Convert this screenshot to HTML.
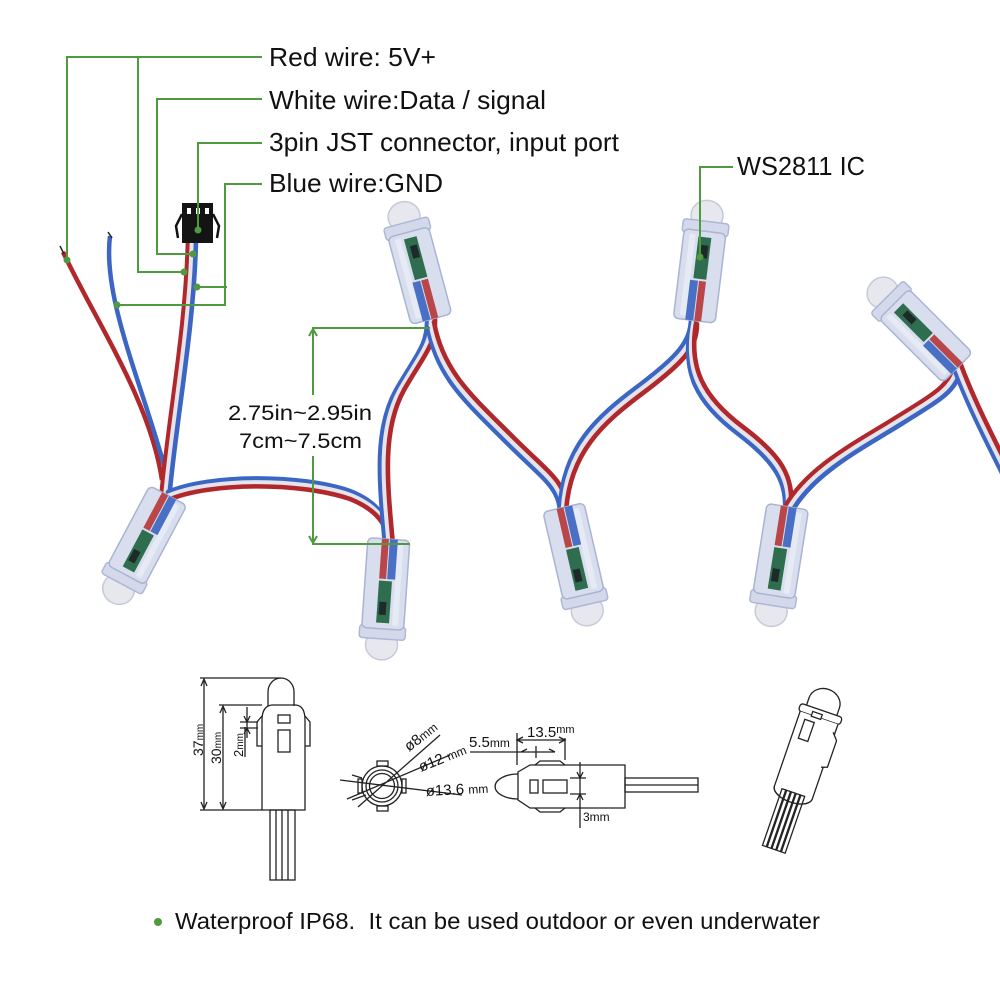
<!DOCTYPE html>
<html><head><meta charset="utf-8"><style>
html,body{margin:0;padding:0;background:#fff;}
svg{display:block;}
</style></head><body>
<svg width="1000" height="1000" viewBox="0 0 1000 1000" xmlns="http://www.w3.org/2000/svg" font-family="Liberation Sans, Arial, sans-serif">
<defs>
<g id="pix">
 <ellipse cx="0" cy="-50" rx="16" ry="15" fill="#e7e8ee" stroke="#c6cad8" stroke-width="1.5"/>
 <rect x="-23" y="-44" width="46" height="13" rx="3" fill="#d3d9ea" stroke="#aeb8d6" stroke-width="1.5"/>
 <rect x="-21" y="-34" width="42" height="90" rx="5" fill="#d8deee" stroke="#a9b4d3" stroke-width="1.5"/>
 <rect x="-15" y="-30" width="6" height="82" fill="#e8ecf6" opacity="0.8"/>
 <rect x="-6" y="-28" width="13" height="42" fill="#2f6d4f"/>
 <rect x="-2" y="-20" width="7" height="13" fill="#1e2a2a"/>
 <rect x="-9" y="16" width="8" height="40" fill="#4a70c6"/>
 <rect x="0" y="16" width="7" height="40" fill="#b9474a"/>
</g>
</defs>
<rect width="1000" height="1000" fill="#fff"/>

<!-- loose wires -->
<path d="M63,252 C95,320 150,400 162,480" fill="none" stroke="#b0272c" stroke-width="4.5"/>
<path d="M110,236 C102,300 145,390 168,480" fill="none" stroke="#3c66c4" stroke-width="4.5"/>
<path d="M60,246 L64,254" stroke="#222" stroke-width="1.5"/>
<path d="M108,232 L112,238" stroke="#222" stroke-width="1.5"/>

<!-- wire bundles -->
<g fill="none" stroke-width="4.6" stroke-linecap="round">
 <path d="M192,240 C190,330 172,420 165,500" stroke="#b0272c" transform="translate(-4,0)"/>
 <path d="M192,240 C190,330 172,420 165,500" stroke="#e4e4ea"/>
 <path d="M192,240 C190,330 172,420 165,500" stroke="#3c66c4" transform="translate(4,0)"/>
 <path d="M168,496 C210,478 300,478 350,495 C375,505 388,520 389,540" stroke="#3c66c4" transform="translate(0,-4)"/>
 <path d="M168,496 C210,478 300,478 350,495 C375,505 388,520 389,540" stroke="#e4e4ea"/>
 <path d="M168,496 C210,478 300,478 350,495 C375,505 388,520 389,540" stroke="#b0272c" transform="translate(0,4)"/>
 <path d="M389,545 C383,480 378,430 400,390 C420,355 432,345 431,319" stroke="#3c66c4" transform="translate(-4,0)"/>
 <path d="M389,545 C383,480 378,430 400,390 C420,355 432,345 431,319" stroke="#e4e4ea"/>
 <path d="M389,545 C383,480 378,430 400,390 C420,355 432,345 431,319" stroke="#b0272c" transform="translate(4,0)"/>
 <path d="M431,325 C440,375 470,400 510,440 C545,475 563,485 563,510" stroke="#3c66c4" transform="translate(-3,3)"/>
 <path d="M431,325 C440,375 470,400 510,440 C545,475 563,485 563,510" stroke="#e4e4ea"/>
 <path d="M431,325 C440,375 470,400 510,440 C545,475 563,485 563,510" stroke="#b0272c" transform="translate(3,-3)"/>
 <path d="M563,510 C566,450 600,420 640,390 C680,360 694,345 694,321" stroke="#3c66c4" transform="translate(-3,-3)"/>
 <path d="M563,510 C566,450 600,420 640,390 C680,360 694,345 694,321" stroke="#e4e4ea"/>
 <path d="M563,510 C566,450 600,420 640,390 C680,360 694,345 694,321" stroke="#b0272c" transform="translate(3,3)"/>
 <path d="M694,321 C684,370 700,400 740,430 C780,460 790,480 788,510" stroke="#3c66c4" transform="translate(-3,3)"/>
 <path d="M694,321 C684,370 700,400 740,430 C780,460 790,480 788,510" stroke="#e4e4ea"/>
 <path d="M694,321 C684,370 700,400 740,430 C780,460 790,480 788,510" stroke="#b0272c" transform="translate(3,-3)"/>
 <path d="M788,510 C810,470 860,445 900,420 C940,395 950,390 958,368" stroke="#b0272c" transform="translate(-3,-3)"/>
 <path d="M788,510 C810,470 860,445 900,420 C940,395 950,390 958,368" stroke="#e4e4ea"/>
 <path d="M788,510 C810,470 860,445 900,420 C940,395 950,390 958,368" stroke="#3c66c4" transform="translate(3,3)"/>
 <path d="M958,368 C970,400 985,430 1005,470" stroke="#3c66c4" transform="translate(-3,3)"/>
 <path d="M958,368 C970,400 985,430 1005,470" stroke="#e4e4ea"/>
 <path d="M958,368 C970,400 985,430 1005,470" stroke="#b0272c" transform="translate(3,-3)"/>
</g>

<!-- JST connector -->
<g>
 <path d="M182,214 L176,226 L178,238" fill="none" stroke="#111" stroke-width="2.5"/>
 <path d="M213,214 L219,226 L217,238" fill="none" stroke="#111" stroke-width="2.5"/>
 <rect x="182" y="203" width="31" height="40" fill="#141414"/>
 <rect x="187" y="208" width="4" height="6" fill="#fff"/>
 <rect x="196" y="208" width="4" height="6" fill="#fff"/>
 <rect x="205" y="208" width="4" height="6" fill="#fff"/>
</g>

<!-- pixels -->
<use href="#pix" transform="translate(417,265) rotate(-15)"/>
<use href="#pix" transform="translate(701,265) rotate(7)"/>
<use href="#pix" transform="translate(918,328) rotate(-45)"/>
<use href="#pix" transform="translate(142,545) rotate(208)"/>
<use href="#pix" transform="translate(385,595) rotate(184)"/>
<use href="#pix" transform="translate(576,562) rotate(167)"/>
<use href="#pix" transform="translate(779,562) rotate(189)"/>

<!-- green annotations -->
<g stroke="#4f9a40" stroke-width="2" fill="none">
 <polyline points="67,260 67,57 262,57"/>
 <polyline points="184,272 138,272 138,57"/>
 <polyline points="193,254 157,254 157,99 262,99"/>
 <polyline points="198,230 198,143 262,143"/>
 <polyline points="117,305 225,305 225,184 262,184"/>
 <polyline points="197,287 227,287"/>
 <polyline points="700,257 700,167 733,167"/>
 <polyline points="430,328 313,328 313,395"/>
 <polyline points="313,456 313,544 410,544"/>
 <polyline points="309,336 313,329 317,336"/>
 <polyline points="309,536 313,543 317,536"/>
</g>
<g fill="#4f9a40">
 <circle cx="67" cy="260" r="3.5"/>
 <circle cx="184" cy="272" r="3.5"/>
 <circle cx="193" cy="254" r="3.5"/>
 <circle cx="198" cy="230" r="3.5"/>
 <circle cx="117" cy="305" r="3.5"/>
 <circle cx="197" cy="287" r="3.5"/>
 <circle cx="700" cy="257" r="3.5"/>
 <circle cx="158" cy="922" r="4"/>
</g>

<!-- labels -->
<g fill="#111" font-size="26">
 <text x="269" y="66" textLength="167" lengthAdjust="spacingAndGlyphs">Red wire: 5V+</text>
 <text x="269" y="109" textLength="277" lengthAdjust="spacingAndGlyphs">White wire:Data / signal</text>
 <text x="269" y="151" textLength="350" lengthAdjust="spacingAndGlyphs">3pin JST connector, input port</text>
 <text x="269" y="192" textLength="174" lengthAdjust="spacingAndGlyphs">Blue wire:GND</text>
 <text x="737" y="175" textLength="128" lengthAdjust="spacingAndGlyphs">WS2811 IC</text>
</g>
<g fill="#111" font-size="21">
 <text x="228" y="420" textLength="144" lengthAdjust="spacingAndGlyphs">2.75in~2.95in</text>
 <text x="239" y="448" textLength="123" lengthAdjust="spacingAndGlyphs">7cm~7.5cm</text>
</g>
<text x="175" y="929" font-size="23" fill="#111" textLength="645" lengthAdjust="spacingAndGlyphs" xml:space="preserve">Waterproof IP68.&#160; It can be used outdoor or even underwater</text>

<!-- technical drawing A -->
<g stroke="#222" stroke-width="1.3" fill="none">
 <path d="M268,706 V692 A13,14 0 0 1 294,692 V706"/>
 <path d="M262,810 V720 Q262,706 272,705 H296 Q305,706 305,720 V810 Z"/>
 <path d="M262,716 L257,722 V746 L262,746"/>
 <path d="M305,716 L310,722 V746 L305,746"/>
 <rect x="278" y="715" width="12" height="8"/>
 <rect x="278" y="730" width="12" height="22"/>
 <rect x="270" y="810" width="25" height="70"/>
 <path d="M276,810 V880 M282,810 V880 M288,810 V880"/>
 <path d="M200,678 H281 M200,810 H262 M204,680 V808"/>
 <path d="M201,686 L204,679 L207,686 M201,802 L204,809 L207,802"/>
 <path d="M219,705 H262 M223,707 V808"/>
 <path d="M220,713 L223,706 L226,713 M220,802 L223,809 L226,802"/>
 <path d="M240,722 H258 M240,728 H258 M247,707 V738"/>
 <path d="M244,716 L247,722 L250,716 M244,734 L247,728 L250,734"/>
 <path d="M245,727 V757"/>
</g>
<g fill="#111">
 <text transform="translate(203,756) rotate(-90)" font-size="14">37<tspan font-size="10">mm</tspan></text>
 <text transform="translate(221,764) rotate(-90)" font-size="14">30<tspan font-size="10">mm</tspan></text>
 <text transform="translate(243,757) rotate(-90)" font-size="13">2<tspan font-size="10">mm</tspan></text>
</g>

<!-- technical drawing B -->
<g stroke="#222" stroke-width="1.3" fill="none">
 <circle cx="382" cy="786" r="20"/>
 <circle cx="382" cy="786" r="16"/>
 <circle cx="382" cy="786" r="12.5"/>
 <rect x="377" y="761" width="11" height="5"/>
 <rect x="377" y="806" width="11" height="5"/>
 <rect x="358" y="779" width="4" height="14"/>
 <rect x="402" y="779" width="4" height="14"/>
 <path d="M358,807 L440,735"/>
 <path d="M347,799 L450,755"/>
 <path d="M340,780 L462,795"/>
 <path d="M352,775 L362,778 M352,800 L366,795"/>
</g>
<g fill="#111">
 <text transform="translate(409,752) rotate(-38)" font-size="15">ø8<tspan font-size="12">mm</tspan></text>
 <text transform="translate(421,772) rotate(-22)" font-size="15">ø12 <tspan font-size="12">mm</tspan></text>
 <text transform="translate(426,796) rotate(-3)" font-size="15">ø13.6 <tspan font-size="12">mm</tspan></text>
</g>

<!-- technical drawing C -->
<g stroke="#222" stroke-width="1.3" fill="none">
 <path d="M518,774 A22,12 0 0 0 518,799"/>
 <path d="M518,772 L530,765 H625 V808 H530 L518,800 Z"/>
 <path d="M535,765 L540,761 H560 L565,765 M535,808 L540,812 H560 L565,808"/>
 <rect x="530" y="780" width="8" height="13"/>
 <rect x="543" y="780" width="24" height="13"/>
 <rect x="625" y="778" width="73" height="14"/>
 <path d="M625,785 H698"/>
 <path d="M517,733 V765 M565,738 V760 M517,740 H565"/>
 <path d="M523,737 L517,740 L523,743 M559,737 L565,740 L559,743"/>
 <path d="M470,752 H555 M549,749 L555,752 M527,749 L521,752 M536,746 V758"/>
 <path d="M580,762 V828 M570,778 H586 M570,794 H586"/>
 <path d="M577,772 L580,778 L583,772 M577,800 L580,794 L583,800"/>
</g>
<g fill="#111">
 <text x="527" y="737" font-size="15">13.5<tspan font-size="11" dy="-4">mm</tspan></text>
 <text x="469" y="747" font-size="15">5.5<tspan font-size="12">mm</tspan></text>
 <text x="583" y="821" font-size="12">3mm</text>
</g>

<!-- technical drawing D -->
<g stroke="#222" stroke-width="1.3" fill="#fff" transform="rotate(19,808,750)">
 <path d="M792,712 V700 A16,14 0 0 1 824,700 V712"/>
 <rect x="786" y="708" width="44" height="8" rx="3"/>
 <path d="M788,716 V795 A20,10 0 0 0 828,795 V716"/>
 <rect x="795" y="722" width="10" height="20"/>
 <rect x="800" y="712" width="10" height="5"/>
 <path d="M826,725 L832,732 V760 L826,762"/>
 <g>
  <rect x="796" y="795" width="4" height="60"/>
  <rect x="801" y="795" width="4" height="60"/>
  <rect x="806" y="795" width="4" height="60"/>
  <rect x="811" y="795" width="4" height="60"/>
  <rect x="816" y="795" width="4" height="60"/>
 </g>
 <path d="M788,795 A20,10 0 0 0 828,795" fill="none"/>
</g>
</svg>
</body></html>
